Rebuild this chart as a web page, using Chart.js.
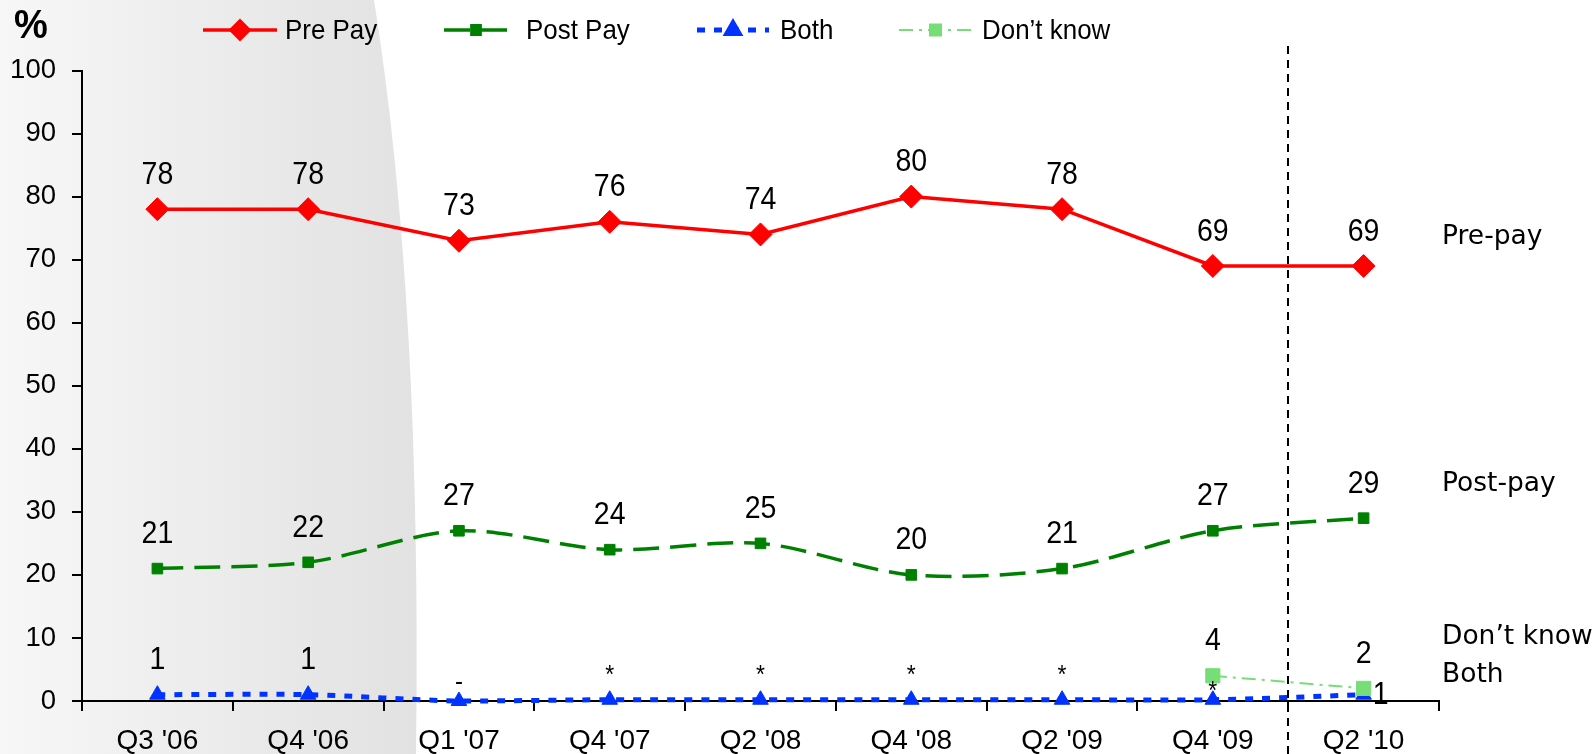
<!DOCTYPE html>
<html>
<head>
<meta charset="utf-8">
<script src="https://cdn.jsdelivr.net/npm/chart.js@4/dist/chart.umd.min.js"></script>
<style>
  html, body { margin: 0; padding: 0; background: #ffffff; }
  #wrap { width: 1592px; height: 754px; position: relative; }
  canvas { display: block; }
</style>
</head>
<body>
<div id="wrap"><canvas id="c" width="1592" height="754"></canvas></div>
<script>
// ---- data ----
const categories = ["Q3 '06", "Q4 '06", "Q1 '07", "Q4 '07", "Q2 '08", "Q4 '08", "Q2 '09", "Q4 '09", "Q2 '10"];
const prePay   = [78, 78, 73, 76, 74, 80, 78, 69, 69];
const postPay  = [21, 22, 27, 24, 25, 20, 21, 27, 29];
const both     = [1, 1, 0, 0.2, 0.2, 0.2, 0.2, 0.2, 1];
const dontKnow = [null, null, null, null, null, null, null, 4, 2];
const prePayLabels   = ["78", "78", "73", "76", "74", "80", "78", "69", "69"];
const postPayLabels  = ["21", "22", "27", "24", "25", "20", "21", "27", "29"];
const bothLabels     = ["1", "1", "-", "*", "*", "*", "*", "*", "1"];
const dontKnowLabels = [null, null, null, null, null, null, null, "4", "2"];
const seriesNames = ["Pre Pay", "Post Pay", "Both", "Don\u2019t know"];
const sideLabels = ["Pre-pay", "Post-pay", "Don\u2019t know", "Both"];
const yTicks = [0, 10, 20, 30, 40, 50, 60, 70, 80, 90, 100];

const FONT = "'Liberation Sans', Arial, sans-serif";
const SIDEFONT = "'DejaVu Sans', Verdana, sans-serif";

// text drawn slightly condensed horizontally, like the reference
function condensedText(ctx, t, x, y, sx) {
  ctx.save();
  ctx.translate(x, y);
  ctx.scale(sx, 1);
  ctx.fillText(t, 0, 0);
  ctx.restore();
}

// background decoration (shaded panel on the left)
const bgPlugin = {
  id: 'bg',
  beforeDraw(chart) {
    const ctx = chart.ctx;
    ctx.save();
    ctx.fillStyle = '#ffffff';
    ctx.fillRect(0, 0, chart.width, chart.height);
    const g = ctx.createLinearGradient(0, 0, 415, 0);
    g.addColorStop(0, '#f7f7f7');
    g.addColorStop(0.55, '#ebebeb');
    g.addColorStop(1, '#e2e2e2');
    ctx.fillStyle = g;
    ctx.beginPath();
    ctx.moveTo(0, 0);
    ctx.lineTo(374, 0);
    ctx.quadraticCurveTo(422, 300, 416, 754);
    ctx.lineTo(0, 754);
    ctx.closePath();
    ctx.fill();
    ctx.restore();
  }
};

// vertical dashed separator between Q4 '09 and Q2 '10
const sepPlugin = {
  id: 'sep',
  afterDatasetsDraw(chart) {
    const ctx = chart.ctx;
    const xs = chart.scales.x;
    const x = Math.round((xs.getPixelForValue(7) + xs.getPixelForValue(8)) / 2);
    ctx.save();
    ctx.strokeStyle = '#000000';
    ctx.lineWidth = 2;
    ctx.setLineDash([8, 6]);
    ctx.beginPath();
    ctx.moveTo(x, 46);
    ctx.lineTo(x, chart.height);
    ctx.stroke();
    ctx.restore();
  }
};

// value labels
const labelPlugin = {
  id: 'vals',
  afterDatasetsDraw(chart) {
    const ctx = chart.ctx;
    const sets = [prePayLabels, postPayLabels, bothLabels, dontKnowLabels];
    ctx.save();
    ctx.fillStyle = '#000000';
    ctx.textAlign = 'center';
    ctx.textBaseline = 'middle';
    sets.forEach((labels, di) => {
      const meta = chart.getDatasetMeta(di);
      meta.data.forEach((pt, i) => {
        const t = labels[i];
        if (t == null) return;
        let dx = 0, dy = -34, size = 31;
        if (di === 2) {
          if (t === '-') { dy = -18; size = 26; }
          else if (t === '*') { dy = (i === 7) ? -8 : -24; size = 25; }
          else if (i === 8) { dx = 17; dy = 1; }
        }
        ctx.font = size + 'px ' + FONT;
        condensedText(ctx, t, pt.x + dx, pt.y + dy, 0.92);
      });
    });
    // side labels
    const ys = chart.scales.y;
    const sideY = [73.6, 34.4, 10.2, 4.1];
    ctx.textAlign = 'left';
    ctx.font = '26.5px ' + SIDEFONT;
    sideLabels.forEach((t, i) => {
      ctx.fillText(t, chart.chartArea.right + 3, ys.getPixelForValue(sideY[i]));
    });
    // percent sign
    ctx.font = 'bold 40px ' + FONT;
    ctx.textAlign = 'center';
    condensedText(ctx, '%', 31, 27, 0.95);
    ctx.restore();
  }
};

// custom legend: line with marker in the middle
const legendPlugin = {
  id: 'lgd',
  afterDraw(chart) {
    const ctx = chart.ctx;
    const pos = [
      { x0: 203, x1: 277, tx: 285 },
      { x0: 444, x1: 508, tx: 526 },
      { x0: 697, x1: 769, tx: 780 },
      { x0: 899, x1: 972, tx: 982 }
    ];
    const y = 30;
    ctx.save();
    chart.data.datasets.forEach((ds, i) => {
      const p = pos[i];
      ctx.strokeStyle = ds.borderColor;
      ctx.fillStyle = ds.backgroundColor;
      ctx.lineWidth = ds.borderWidth;
      ctx.setLineDash(ds.borderDash || []);
      ctx.beginPath();
      ctx.moveTo(p.x0, y);
      ctx.lineTo(p.x1, y);
      ctx.stroke();
      ctx.setLineDash([]);
      Chart.helpers.drawPoint(ctx, {
        pointStyle: ds.pointStyle,
        radius: ds.pointRadius * 0.78,
        rotation: 0,
        borderWidth: 1
      }, (p.x0 + p.x1) / 2, y);
      ctx.fillStyle = '#000000';
      ctx.font = '28.5px ' + FONT;
      ctx.textAlign = 'left';
      ctx.textBaseline = 'middle';
      condensedText(ctx, seriesNames[i], p.tx, y + 1, 0.91);
    });
    ctx.restore();
  }
};

const ctx = document.getElementById('c').getContext('2d');
new Chart(ctx, {
  type: 'line',
  data: {
    labels: categories,
    datasets: [
      {
        label: seriesNames[0], data: prePay,
        borderColor: '#FF0000', backgroundColor: '#FF0000', borderWidth: 3.5,
        pointStyle: 'rectRot', pointRadius: 11.5, pointBorderWidth: 1,
        tension: 0, clip: false, order: 1
      },
      {
        label: seriesNames[1], data: postPay,
        borderColor: '#008000', backgroundColor: '#008000', borderWidth: 3.5,
        borderDash: [26, 11],
        pointStyle: 'rect', pointRadius: 7.5, pointBorderWidth: 1,
        tension: 0.3, clip: false, order: 2
      },
      {
        label: seriesNames[2], data: both,
        borderColor: '#0033FF', backgroundColor: '#0033FF', borderWidth: 5,
        borderDash: [8, 9],
        pointStyle: 'triangle', pointRadius: 9, pointBorderWidth: 1,
        tension: 0.3, clip: false, order: 4
      },
      {
        label: seriesNames[3], data: dontKnow,
        borderColor: '#77DD77', backgroundColor: '#77DD77', borderWidth: 2,
        borderDash: [14, 6, 3, 6],
        pointStyle: 'rect', pointRadius: 10, pointBorderWidth: 1,
        tension: 0, clip: false, order: 3
      }
    ]
  },
  options: {
    responsive: false,
    animation: false,
    devicePixelRatio: 1,
    layout: { padding: { top: 70.5, right: 153, left: 0, bottom: 0 } },
    plugins: { legend: { display: false }, tooltip: { enabled: false } },
    scales: {
      x: {
        offset: true,
        afterFit(s) { s.height = 53; },
        grid: { offset: true, drawOnChartArea: false, drawTicks: true, tickLength: 10, color: '#000000', lineWidth: 2 },
        border: { display: true, color: '#000000', width: 2 },
        ticks: { color: '#000000', font: { family: FONT, size: 28 }, padding: 13, maxRotation: 0, autoSkip: false }
      },
      y: {
        min: 0, max: 100,
        afterFit(s) { s.width = 82; },
        afterBuildTicks(s) { s.ticks = yTicks.map(v => ({ value: v })); },
        grid: { drawOnChartArea: false, drawTicks: true, tickLength: 10, color: '#000000', lineWidth: 2 },
        border: { display: true, color: '#000000', width: 2 },
        ticks: { color: '#000000', font: { family: FONT, size: 27.5 }, padding: 16 }
      }
    }
  },
  plugins: [bgPlugin, sepPlugin, labelPlugin, legendPlugin]
});
</script>
</body>
</html>
